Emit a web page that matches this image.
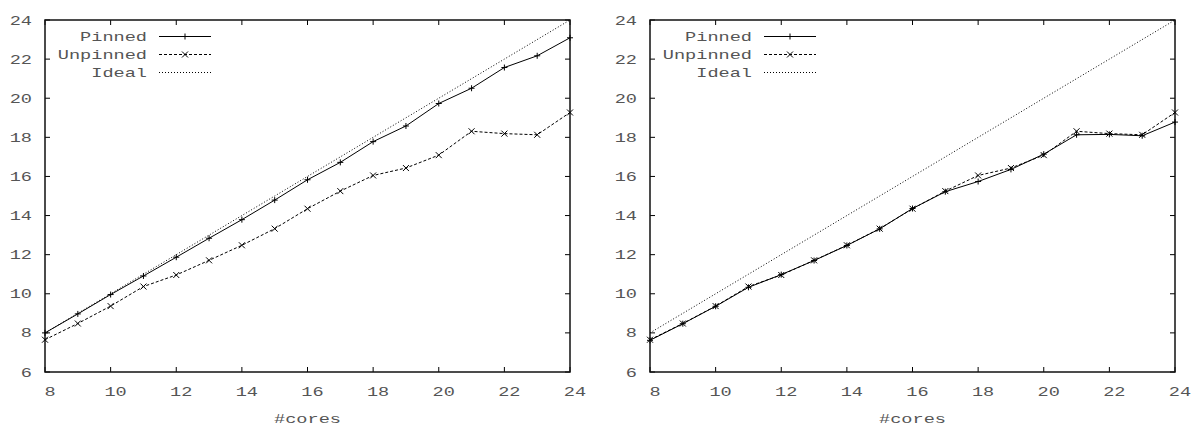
<!DOCTYPE html>
<html>
<head>
<meta charset="utf-8">
<script src="https://cdn.jsdelivr.net/npm/d3@7"></script>
<style>
  body { margin: 0; background: #fff; }
  text { font-family: "Liberation Mono", "DejaVu Sans Mono", monospace; font-size: 13px; fill: #555; }
</style>
</head>
<body>
<svg width="1192" height="427"></svg>
<script>
const { select, scaleLinear, line } = d3;

// data
const cores = [8, 9, 10, 11, 12, 13, 14, 15, 16, 17, 18, 19, 20, 21, 22, 23, 24];
const pinnedLeft = [8.0, 8.97, 9.96, 10.91, 11.87, 12.84, 13.79, 14.79, 15.83, 16.72, 17.78, 18.58, 19.73, 20.51, 21.57, 22.17, 23.09];
const unpinned = [7.65, 8.48, 9.37, 10.37, 10.96, 11.71, 12.48, 13.33, 14.35, 15.25, 16.05, 16.43, 17.09, 18.31, 18.19, 18.13, 19.27];
const pinnedRight = [7.62, 8.47, 9.36, 10.33, 10.98, 11.70, 12.47, 13.32, 14.36, 15.22, 15.74, 16.36, 17.14, 18.13, 18.15, 18.08, 18.78];
const xTicks = [8, 10, 12, 14, 16, 18, 20, 22, 24];
const yTicks = [6, 8, 10, 12, 14, 16, 18, 20, 22, 24];
const legendLabels = ['Pinned', 'Unpinned', 'Ideal'];

const svg = select('svg');
const plotW = 525;
const plotTop = 20, plotBottom = 372;
const tickLen = 5;
const stretch = 1.43; // the original font is a wide courier

const panels = [
  { left: 45, pinned: pinnedLeft },
  { left: 650, pinned: pinnedRight },
];

const styles = {
  Pinned: { dash: null, marker: 'plus' },
  Unpinned: { dash: '3,2', marker: 'cross' },
  Ideal: { dash: '1,2', marker: null },
};

const label = (g, x, y, anchor, str) =>
  g.append('text')
    .attr('transform', `translate(${x},${y}) scale(${stretch},1)`)
    .attr('dy', '0.35em')
    .attr('text-anchor', anchor)
    .text(str);

const drawMarker = (g, type, x, y) => {
  const s = 3;
  const p = type === 'plus'
    ? `M${x - s},${y}H${x + s}M${x},${y - s}V${y + s}`
    : `M${x - s},${y - s}L${x + s},${y + s}M${x - s},${y + s}L${x + s},${y - s}`;
  g.append('path').attr('d', p).attr('stroke', '#000').attr('stroke-width', 1).attr('fill', 'none');
};

panels.forEach((panel) => {
  const x = scaleLinear().domain([8, 24]).range([panel.left, panel.left + plotW]);
  const y = scaleLinear().domain([6, 24]).range([plotBottom, plotTop]);
  const g = svg.append('g');

  // ticks (mirrored on all sides)
  xTicks.forEach((t) => {
    g.append('line').attr('x1', x(t)).attr('x2', x(t)).attr('y1', plotBottom).attr('y2', plotBottom - tickLen)
      .attr('stroke', '#000');
    g.append('line').attr('x1', x(t)).attr('x2', x(t)).attr('y1', plotTop).attr('y2', plotTop + tickLen)
      .attr('stroke', '#000');
    label(g, x(t) + 5, 391.5, 'middle', t);
  });
  yTicks.forEach((t) => {
    g.append('line').attr('x1', x(8)).attr('x2', x(8) + tickLen).attr('y1', y(t)).attr('y2', y(t))
      .attr('stroke', '#000');
    g.append('line').attr('x1', x(24)).attr('x2', x(24) - tickLen).attr('y1', y(t)).attr('y2', y(t))
      .attr('stroke', '#000');
    label(g, x(8) - 13, y(t), 'end', t);
  });

  // frame
  g.append('rect')
    .attr('x', x(8)).attr('y', plotTop)
    .attr('width', plotW).attr('height', plotBottom - plotTop)
    .attr('fill', 'none').attr('stroke', '#111').attr('stroke-width', 1.5);

  label(g, x(16), 418, 'middle', '#cores');

  const series = [
    { name: 'Pinned', values: panel.pinned },
    { name: 'Unpinned', values: unpinned },
    { name: 'Ideal', values: cores },
  ];

  const lineGen = line().x((d) => x(d[0])).y((d) => y(d[1]));

  series.forEach((s) => {
    const pts = cores.map((c, i) => [c, s.values[i]]);
    g.append('path')
      .attr('d', lineGen(pts))
      .attr('fill', 'none')
      .attr('stroke', '#000')
      .attr('stroke-width', 1)
      .attr('stroke-dasharray', styles[s.name].dash);
    if (styles[s.name].marker) {
      pts.forEach((p) => drawMarker(g, styles[s.name].marker, x(p[0]), y(p[1])));
    }
  });

  // legend
  const lx = panel.left + 102;
  legendLabels.forEach((name, i) => {
    const ly = 36.5 + i * 18;
    label(g, lx, ly, 'end', name);
    g.append('line')
      .attr('x1', lx + 12).attr('x2', lx + 64)
      .attr('y1', ly).attr('y2', ly)
      .attr('stroke', '#000').attr('stroke-width', 1)
      .attr('stroke-dasharray', styles[name].dash);
    if (styles[name].marker) drawMarker(g, styles[name].marker, lx + 38, ly);
  });
});
</script>
</body>
</html>
